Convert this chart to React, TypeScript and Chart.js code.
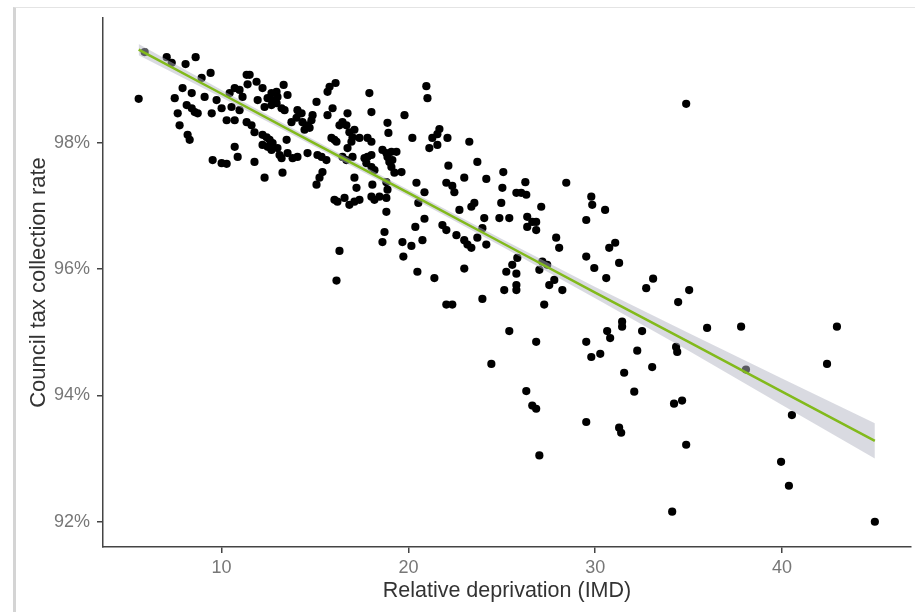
import React, { useEffect, useRef } from "react";
import { Chart, registerables } from "chart.js";

Chart.register(...registerables);

// Relative deprivation (IMD) of each authority
const imd = [
  5.88, 5.56, 7.06, 7.33, 8.07, 8.61, 7.49, 7.91, 8.40, 8.93, 9.41, 8.13, 8.40, 8.56, 8.72, 7.65, 7.75, 8.18, 8.29, 9.09,
  9.47, 9.73, 10.00, 10.27, 10.70, 10.43, 10.70, 10.96, 11.12, 11.34, 11.50, 11.39, 11.87, 12.19, 11.93, 10.53, 10.96, 11.34, 11.60, 11.76,
  12.19, 12.19, 10.70, 10.86, 9.52, 10.00, 10.27, 11.76, 12.30, 13.32, 12.67, 12.94, 12.99, 13.53, 12.46, 12.73, 12.30, 12.67, 12.94, 13.21,
  13.37, 15.08, 15.67, 15.78, 16.10, 15.94, 15.67, 14.06, 14.28, 14.01, 13.74, 14.33, 14.60, 14.87, 14.81, 14.44, 14.71, 16.74, 16.47, 16.31,
  16.68, 17.91, 18.02, 18.88, 18.93, 19.79, 20.21, 16.84, 17.11, 17.01, 17.38, 16.95, 15.88, 16.04, 16.15, 17.81, 18.02, 12.41, 12.57, 12.73,
  12.46, 12.67, 12.99, 13.48, 13.53, 13.10, 13.21, 13.80, 14.06, 14.60, 15.13, 15.35, 15.61, 16.74, 16.47, 16.68, 17.01, 17.65, 17.81, 18.02,
  17.75, 18.02, 18.18, 18.61, 18.82, 19.09, 18.88, 18.98, 19.14, 19.36, 19.09, 19.25, 19.63, 13.26, 15.40, 15.24, 15.08, 17.11, 17.22, 18.07,
  18.45, 18.82, 18.88, 16.58, 16.04, 16.20, 16.84, 17.11, 17.38, 18.02, 18.18, 18.82, 16.31, 16.15, 18.72, 18.61, 19.68, 20.16, 19.73, 20.37,
  20.86, 20.75, 20.48, 21.39, 22.03, 21.82, 22.03, 18.82, 20.96, 21.02, 21.66, 21.55, 21.28, 21.55, 21.12, 22.09, 23.26, 23.69, 22.14, 20.43,
  20.86, 22.03, 22.35, 22.46, 22.73, 22.99, 24.17, 25.08, 25.03, 26.26, 25.78, 26.04, 26.31, 27.11, 24.97, 23.37, 23.53, 24.06, 24.87, 25.40,
  26.36, 26.63, 26.84, 20.53, 22.57, 22.99, 23.16, 23.37, 23.69, 24.17, 23.96, 26.36, 26.84, 27.91, 28.07, 29.52, 29.52, 25.83, 25.56, 25.24,
  25.78, 27.17, 27.43, 27.01, 27.81, 27.54, 28.24, 25.78, 25.13, 25.78, 22.99, 22.35, 23.96, 27.27, 25.40, 26.84, 29.52, 24.44, 28.45, 29.79,
  29.84, 30.53, 31.07, 30.75, 29.95, 31.28, 30.59, 33.10, 32.73, 35.03, 34.44, 31.44, 26.31, 26.63, 26.84, 27.01, 29.79, 30.27, 30.64, 30.80,
  31.44, 32.51, 32.25, 31.55, 33.05, 32.09, 29.52, 31.28, 31.39, 34.33, 34.39, 35.99, 37.81, 42.94, 38.07, 42.41, 34.22, 34.65, 34.87, 34.12,
  39.95, 40.37, 40.53, 44.97, 34.87,
];

// Council tax collection rate (%)
const rate = [
  99.44, 98.70, 99.36, 99.27, 99.25, 99.36, 98.71, 98.87, 98.79, 99.03, 99.11, 98.60, 98.55, 98.49, 98.47, 98.47, 98.28, 98.13, 98.05, 98.73,
  98.47, 98.68, 98.55, 98.36, 98.36, 98.79, 98.87, 98.84, 98.73, 99.08, 99.08, 98.93, 98.97, 98.87, 98.68, 98.57, 98.52, 98.33, 98.28, 98.17,
  98.13, 97.97, 97.94, 97.78, 97.73, 97.68, 97.67, 97.70, 97.45, 98.92, 98.79, 98.81, 98.73, 98.76, 98.71, 98.68, 98.57, 98.60, 98.63, 98.55,
  98.52, 98.65, 98.81, 98.89, 98.95, 98.55, 98.44, 98.52, 98.47, 98.40, 98.33, 98.33, 98.28, 98.44, 98.36, 98.21, 98.24, 98.47, 98.33, 98.28,
  98.28, 98.79, 98.49, 98.32, 98.16, 98.44, 98.08, 98.17, 98.21, 98.09, 98.08, 98.02, 98.08, 98.05, 98.02, 98.08, 98.02, 98.09, 98.05, 98.00,
  97.94, 97.89, 97.92, 98.05, 97.84, 97.81, 97.76, 97.76, 97.78, 97.84, 97.81, 97.78, 97.73, 97.92, 97.78, 97.73, 97.78, 97.76, 97.78, 97.81,
  97.68, 97.62, 97.57, 97.89, 97.84, 97.86, 97.78, 97.70, 97.73, 97.86, 97.62, 97.53, 97.54, 97.53, 97.54, 97.45, 97.34, 97.45, 97.29, 97.34,
  97.15, 97.38, 97.26, 97.13, 97.10, 97.07, 97.02, 97.07, 97.10, 97.15, 97.10, 97.13, 96.29, 95.82, 96.59, 96.43, 96.43, 96.37, 96.20, 96.67,
  96.80, 96.46, 95.96, 95.86, 95.44, 96.70, 96.62, 96.91, 98.90, 98.71, 98.22, 98.14, 98.08, 97.97, 97.92, 98.08, 98.02, 97.70, 97.64, 97.37,
  97.22, 97.37, 97.32, 97.22, 96.94, 97.45, 97.43, 97.54, 97.29, 97.38, 97.21, 97.21, 97.18, 96.99, 97.05, 96.99, 97.05, 96.81, 96.81, 96.81,
  96.83, 96.75, 96.75, 97.05, 96.54, 96.46, 96.39, 96.34, 96.50, 96.39, 96.65, 96.67, 96.62, 96.50, 96.34, 96.78, 96.20, 96.18, 96.07, 95.96,
  95.93, 96.12, 96.07, 95.99, 95.83, 95.75, 95.67, 95.75, 95.67, 95.67, 96.01, 95.44, 95.53, 95.44, 95.02, 94.85, 94.85, 94.50, 97.37, 97.15,
  97.02, 96.94, 96.42, 96.34, 96.02, 96.10, 95.86, 95.85, 95.70, 95.67, 95.48, 95.17, 94.07, 93.84, 93.79, 93.05, 94.61, 94.66, 95.02, 94.91,
  95.09, 95.02, 94.71, 94.36, 94.45, 94.06, 93.58, 93.49, 93.41, 94.77, 94.69, 95.07, 95.09, 95.09, 94.41, 94.50, 93.87, 93.92, 93.22, 92.16,
  92.95, 92.57, 93.69, 92.00, 98.62,
];

// Linear fit and its confidence band
const fitX = [5.56, 10, 15, 20, 25, 30, 35, 40, 44.97];
const fitY = [99.48, 98.78, 97.99, 97.21, 96.42, 95.63, 94.85, 94.06, 93.28];
const bandLow = [99.39, 98.72, 97.94, 97.16, 96.36, 95.54, 94.71, 93.85, 93.0];
const bandHigh = [99.57, 98.84, 98.04, 97.26, 96.48, 95.72, 94.99, 94.27, 93.56];

const xTicks = [10, 20, 30, 40];
const yTicks = [92, 94, 96, 98];
const xTitle = "Relative deprivation (IMD)";
const yTitle = "Council tax collection rate";

const FONT = "'Liberation Sans', Arial, sans-serif";

export default function App() {
  const ref = useRef<HTMLCanvasElement>(null);

  useEffect(() => {
    const points = imd.map((x, i) => ({ x, y: rate[i] }));
    const fit = fitX.map((x, i) => ({ x, y: fitY[i] }));
    const hi = fitX.map((x, i) => ({ x, y: bandHigh[i] }));
    const lo = fitX.map((x, i) => ({ x, y: bandLow[i] }));

    const chart = new Chart(ref.current as HTMLCanvasElement, {
      type: "scatter",
      data: {
        datasets: [
          {
            label: "fit",
            data: fit,
            showLine: true,
            borderColor: "#82ba1c",
            borderWidth: 2.5,
            pointRadius: 0,
            fill: false,
          },
          {
            label: "hi",
            data: hi,
            showLine: true,
            borderWidth: 0,
            borderColor: "rgba(0,0,0,0)",
            pointRadius: 0,
            fill: "+1",
            backgroundColor: "rgba(180,182,196,0.5)",
          },
          {
            label: "lo",
            data: lo,
            showLine: true,
            borderWidth: 0,
            borderColor: "rgba(0,0,0,0)",
            pointRadius: 0,
            fill: false,
          },
          {
            label: "points",
            data: points,
            pointRadius: 4.1,
            pointBackgroundColor: "#000",
            pointBorderWidth: 0,
            backgroundColor: "#000",
          },
        ],
      },
      options: {
        animation: false,
        responsive: true,
        maintainAspectRatio: false,
        layout: { padding: { top: 18, right: 3, left: 0, bottom: 0 } },
        plugins: {
          legend: { display: false },
          tooltip: { enabled: false },
        },
        scales: {
          x: {
            type: "linear",
            min: 3.65,
            max: 46.9,
            afterBuildTicks: (s: any) => {
              s.ticks = xTicks.map((v) => ({ value: v }));
            },
            afterFit: (s: any) => {
              s.height = 65;
            },
            ticks: {
              color: "#777",
              font: { family: FONT, size: 18 },
              padding: 4,
              autoSkip: false,
              maxRotation: 0,
            },
            grid: {
              drawOnChartArea: false,
              drawTicks: true,
              tickLength: 6,
              color: "#444",
              lineWidth: 1.5,
            },
            border: { display: true, color: "#444", width: 1.5 },
            title: {
              display: true,
              text: xTitle,
              color: "#333",
              font: { family: FONT, size: 21.5 },
              padding: { top: 0, bottom: 8 },
            },
          },
          y: {
            type: "linear",
            min: 91.6,
            max: 99.98,
            afterBuildTicks: (s: any) => {
              s.ticks = yTicks.map((v) => ({ value: v }));
            },
            afterFit: (s: any) => {
              s.width = 103;
            },
            ticks: {
              color: "#777",
              font: { family: FONT, size: 18 },
              padding: 7,
              callback: (v: any) => v + "%",
            },
            grid: {
              drawOnChartArea: false,
              drawTicks: true,
              tickLength: 6,
              color: "#444",
              lineWidth: 1.5,
            },
            border: { display: true, color: "#444", width: 1.5 },
            title: {
              display: true,
              text: yTitle,
              color: "#333",
              font: { family: FONT, size: 22 },
              padding: { top: 26, bottom: 0 },
            },
          },
        },
      },
    });
    return () => chart.destroy();
  }, []);

  return (
    <div style={{ position: "absolute", left: 0, top: 0, width: 915, height: 612, background: "#fff", overflow: "hidden" }}>
      <div
        style={{
          position: "absolute",
          left: 13,
          top: 7,
          width: 902,
          height: 605,
          borderTop: "1px solid #e4e4e4",
          borderLeft: "3px solid #d4d4d4",
          boxSizing: "border-box",
        }}
      />
      <div style={{ position: "absolute", left: 0, top: 0, width: 915, height: 612 }}>
        <canvas ref={ref} />
      </div>
    </div>
  );
}
